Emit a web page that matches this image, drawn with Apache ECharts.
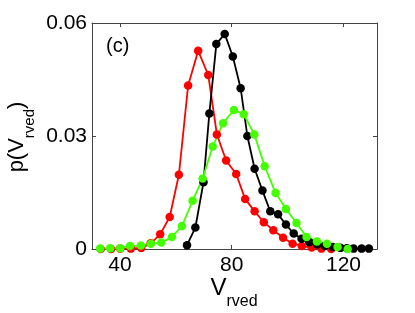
<!DOCTYPE html>
<html>
<head>
<meta charset="utf-8">
<script src="https://cdn.jsdelivr.net/npm/echarts@6/dist/echarts.min.js"></script>
<style>
html,body{margin:0;padding:0;background:#fff;}
#chart{width:415px;height:313px;}
</style>
</head>
<body>
<div id="chart"></div>
<script>
var xTicks = [40, 80, 120];
var yTicks = [0, 0.03, 0.06];

var redX = [33.1, 36.8, 40.1, 43.9, 47.6, 51.0, 54.4, 57.8, 61.1, 64.4, 68.0, 71.6, 74.7, 78.0, 81.6, 84.8, 88.2, 91.5, 94.9, 98.4, 101.8, 105.1, 108.6, 112.1, 115.6];
var redY = [0.0000, 0.0000, 0.0001, 0.0001, 0.0003, 0.0015, 0.0039, 0.0085, 0.0197, 0.0434, 0.0526, 0.0462, 0.0304, 0.0235, 0.0199, 0.0133, 0.0100, 0.0071, 0.0050, 0.0030, 0.0014, 0.0008, 0.0004, 0.0001, 0.0000];

var blackX = [64.0, 67.0, 69.9, 72.0, 74.5, 77.5, 80.4, 83.2, 85.6, 88.2, 91.0, 93.8, 96.6, 99.4, 102.2, 105.0, 107.8, 110.6, 113.3, 116.1, 118.9, 121.2, 123.6, 126.5, 129.1];
var blackY = [0.0010, 0.0057, 0.0177, 0.0360, 0.0544, 0.0571, 0.0511, 0.0427, 0.0300, 0.0213, 0.0155, 0.0100, 0.0092, 0.0065, 0.0041, 0.0027, 0.0018, 0.0012, 0.0008, 0.0005, 0.0003, 0.0002, 0.0001, 0.0001, 0.0001];

var greenX = [32.9, 36.5, 40.1, 43.6, 47.5, 51.1, 54.8, 58.6, 62.2, 66.0, 69.6, 73.2, 76.9, 80.8, 84.3, 88.1, 91.8, 95.7, 99.4, 103.2, 106.8, 110.5, 114.1, 117.9, 121.5];
var greenY = [0.0001, 0.0002, 0.0002, 0.0008, 0.0009, 0.0014, 0.0017, 0.0032, 0.0061, 0.0128, 0.0187, 0.0272, 0.0334, 0.0369, 0.0358, 0.0304, 0.0220, 0.0149, 0.0106, 0.0069, 0.0032, 0.0020, 0.0014, 0.0005, 0.0000];

var xTitle = '{a|V}{b|rved}';
var yTitle = '{a|p(V}{b|rved}{a|)}';

function zip(xs, ys){ return xs.map(function(x,i){ return [x, ys[i]]; }); }

var FONT = 'Liberation Sans';
var AXC = '#444';
var chart = echarts.init(document.getElementById('chart'), null, {renderer:'canvas'});

function series(name, xs, ys, color){
  return {
    name: name, type: 'line', data: zip(xs, ys),
    symbol: 'circle', symbolSize: 8.5, clip: false,
    lineStyle: {color: color, width: 1.8},
    itemStyle: {color: color},
    emphasis: {disabled: true}, animation: false
  };
}

var option = {
  animation: false,
  title: {
    text: '(c)', left: 101, top: 31,
    textStyle: {fontFamily: FONT, fontSize: 20, fontWeight: 'normal', color: '#000'}
  },
  graphic: [{
    type: 'text', x: 234, y: 288, silent: true,
    style: {
      text: xTitle, align: 'center', verticalAlign: 'middle',
      rich: {
        a: {fontFamily: FONT, fontSize: 24, fill: '#000', lineHeight: 26},
        b: {fontFamily: FONT, fontSize: 16, fill: '#000', lineHeight: 16, padding: [28,0,0,0]}
      }
    }
  }, {
    type: 'text', x: 17, y: 137, rotation: Math.PI / 2, silent: true,
    style: {
      text: yTitle, align: 'center', verticalAlign: 'middle',
      rich: {
        a: {fontFamily: FONT, fontSize: 22, fill: '#000', lineHeight: 24},
        b: {fontFamily: FONT, fontSize: 15, fill: '#000', lineHeight: 15, padding: [26,0,0,0]}
      }
    }
  }],
  grid: {left: 92, right: 38, top: 23, bottom: 64, containLabel: false, outerBoundsMode: 'none'},
  xAxis: [{
    type: 'value', min: 30, max: 132,
    axisLine: {show: true, onZero: false, lineStyle: {color: AXC, width: 1}},
    axisTick: {show: true, inside: true, length: 4, customValues: xTicks, lineStyle: {color: AXC}},
    axisLabel: {customValues: xTicks, fontFamily: FONT, fontSize: 21, color: '#000', margin: 6},
    splitLine: {show: false}
  }, {
    type: 'value', min: 30, max: 132, position: 'top',
    axisLine: {show: true, onZero: false, lineStyle: {color: AXC, width: 1}},
    axisTick: {show: true, inside: true, length: 4, customValues: xTicks, lineStyle: {color: AXC}},
    axisLabel: {show: false, customValues: xTicks},
    splitLine: {show: false}
  }],
  yAxis: [{
    type: 'value', min: 0, max: 0.06, interval: 0.03,
    axisLine: {show: true, onZero: false, lineStyle: {color: AXC, width: 1}},
    axisTick: {show: true, inside: true, length: 4, lineStyle: {color: AXC}},
    axisLabel: {fontFamily: FONT, fontSize: 21, color: '#000', margin: 5,
      formatter: function(v){ return v === 0 ? '0' : v.toFixed(2); }},
    splitLine: {show: false}
  }, {
    type: 'value', min: 0, max: 0.06, interval: 0.03, position: 'right',
    axisLine: {show: true, onZero: false, lineStyle: {color: AXC, width: 1}},
    axisTick: {show: true, inside: true, length: 4, lineStyle: {color: AXC}},
    axisLabel: {show: false},
    splitLine: {show: false}
  }],
  series: [
    series('red', redX, redY, '#ff0000'),
    series('black', blackX, blackY, '#000000'),
    series('green', greenX, greenY, '#44ff00')
  ]
};
chart.setOption(option);
</script>
</body>
</html>
